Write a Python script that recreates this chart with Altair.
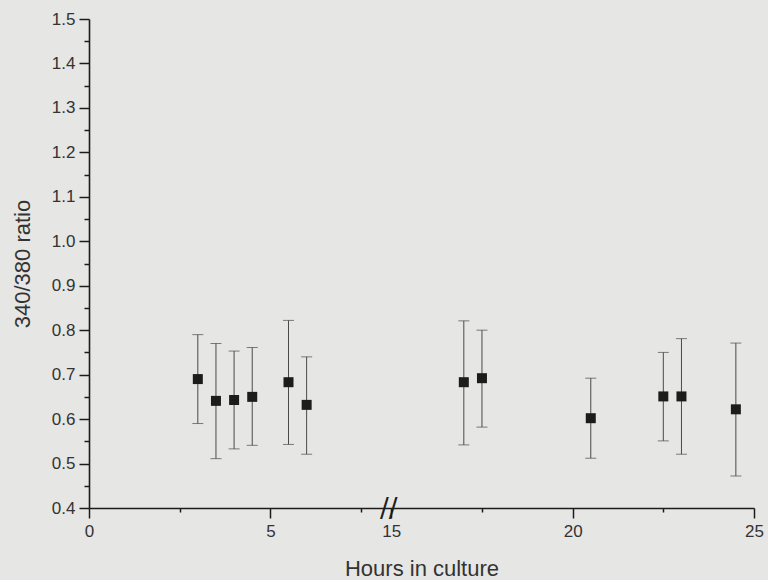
import altair as alt
import pandas as pd

# ---- data ----
hours = [3.0, 3.5, 4.0, 4.5, 5.5, 6.0, 17.0, 17.5, 20.5, 22.5, 23.0, 24.5]
ratio = [0.690, 0.641, 0.643, 0.650, 0.683, 0.632, 0.683, 0.692, 0.602, 0.651, 0.651, 0.622]
upper = [0.790, 0.770, 0.753, 0.761, 0.822, 0.740, 0.821, 0.800, 0.692, 0.750, 0.781, 0.771]
lower = [0.590, 0.511, 0.533, 0.541, 0.543, 0.521, 0.542, 0.582, 0.512, 0.551, 0.521, 0.472]

x_ticks = [0, 2.5, 5, 7.5, 15, 17.5, 20, 22.5, 25]
y_ticks = [0.4, 0.45, 0.5, 0.55, 0.6, 0.65, 0.7, 0.75, 0.8, 0.85, 0.9, 0.95, 1.0,
           1.05, 1.1, 1.15, 1.2, 1.25, 1.3, 1.35, 1.4, 1.45, 1.5]

GAP = 20.0 / 3.0        # hours hidden by the axis break
BREAK_HOURS = 14.93     # where the // marker sits (in hours)

def disp(h):
    return h if h < 10 else h - GAP

df = pd.DataFrame({"hours": hours, "ratio": ratio, "upper": upper, "lower": lower})
brk = pd.DataFrame({"hours": [BREAK_HOURS], "ratio": [0.4]})

FONT = "Liberation Sans"
INK = "#1c1c1c"

xcalc = f"datum.hours < 10 ? datum.hours : datum.hours - {GAP}"
act = f"(datum.value < 8 ? datum.value : datum.value + {GAP})"
x_major = f"abs({act} - round({act}/5)*5) < 0.01"
y_major = "abs(datum.value*10 - round(datum.value*10)) < 0.01"

x_axis = alt.Axis(
    values=[disp(v) for v in x_ticks],
    labelExpr=f"{x_major} ? format(round({act}), 'd') : ''",
    tickSize={"condition": {"test": x_major, "value": 10}, "value": 4},
    tickColor=INK, tickWidth=1.5, domainColor=INK, domainWidth=1.6,
    labelFont=FONT, labelFontSize=17, labelColor="#333333", labelPadding=5,
    labelFlush=False, grid=False,
    title="Hours in culture", titleFont=FONT, titleFontSize=22, titleFontWeight="normal",
    titleColor="#333333", titleX=332.5, titleY=67, titleBaseline="alphabetic",
)
y_axis = alt.Axis(
    values=y_ticks,
    labelExpr=f"{y_major} ? format(datum.value, '.1f') : ''",
    tickSize={"condition": {"test": y_major, "value": 10}, "value": 5},
    tickColor=INK, tickWidth=1.5, domainColor=INK, domainWidth=1.6,
    labelFont=FONT, labelFontSize=17, labelColor="#333333", labelPadding=4,
    labelFlush=False, grid=False,
    title="340/380 ratio", titleFont=FONT, titleFontSize=22, titleFontWeight="normal",
    titleColor="#333333", titleX=-67, titleY=244.5, titleAngle=270,
    titleAlign="center", titleBaseline="middle",
)

xs = alt.Scale(domain=[0, 25 - GAP], nice=False, zero=False)
ys = alt.Scale(domain=[0.4, 1.5], nice=False, zero=False)

X = alt.X("xd:Q", scale=xs, axis=x_axis)

base = alt.Chart(df).transform_calculate(xd=xcalc)

bars = base.mark_rule(color="#4a4a4a", strokeWidth=1).encode(
    x=X, y=alt.Y("lower:Q", scale=ys, axis=y_axis), y2="upper:Q"
)
cap_lo = base.mark_tick(orient="horizontal", color="#4a4a4a", size=11, thickness=1).encode(
    x=X, y=alt.Y("lower:Q", scale=ys, axis=y_axis)
)
cap_hi = base.mark_tick(orient="horizontal", color="#4a4a4a", size=11, thickness=1).encode(
    x=X, y=alt.Y("upper:Q", scale=ys, axis=y_axis)
)
pts = base.mark_square(size=100, color=INK, opacity=1).encode(
    x=X, y=alt.Y("ratio:Q", scale=ys, axis=y_axis)
)
brk_mark = alt.Chart(brk).transform_calculate(xd=xcalc).mark_text(
    text="//", font="DejaVu Sans", fontSize=26, color=INK, align="center",
    baseline="middle", dy=1
).encode(x=X, y=alt.Y("ratio:Q", scale=ys, axis=y_axis))

chart = alt.layer(bars, cap_lo, cap_hi, pts, brk_mark).properties(
    width=665, height=489,
    autosize=alt.AutoSizeParams(type="none"),
    padding={"left": 89, "top": 19, "right": 14, "bottom": 72},
    background="#e6e6e4",
).configure_view(stroke=None)

chart.save("out.html", embed_options={"renderer": "svg", "actions": False})
